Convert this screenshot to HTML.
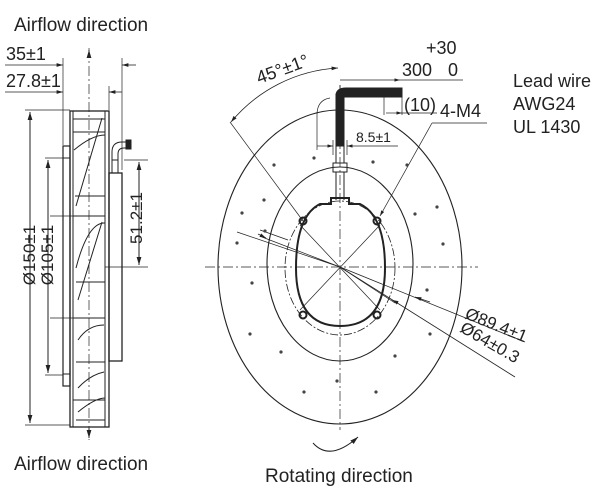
<!DOCTYPE html>
<html><head><meta charset="utf-8"><style>
html,body{margin:0;padding:0;background:#fff;}
svg{display:block;}
text{font-family:"Liberation Sans",sans-serif;fill:#222;}
</style></head><body>
<svg width="600" height="490" viewBox="0 0 600 490" xmlns="http://www.w3.org/2000/svg">
<defs>
<marker id="a" viewBox="0 0 10 6" refX="10" refY="3" markerWidth="8" markerHeight="5" orient="auto-start-reverse"><path d="M0,0L10,3L0,6z" fill="#222"/></marker>
</defs>
<g stroke="#222" fill="none" stroke-width="1">
<line x1="89" y1="48" x2="89" y2="440" stroke-dasharray="10,3,2,3" stroke-width="0.7"/>
<line x1="89" y1="58" x2="89" y2="50" marker-end="url(#a)"/>
<line x1="89" y1="428" x2="89" y2="438" marker-end="url(#a)"/>
<line x1="63" y1="58" x2="63" y2="145" stroke-width="0.7"/>
<line x1="122" y1="58" x2="122" y2="170" stroke-width="0.7"/>
<line x1="109" y1="86" x2="109" y2="110" stroke-width="0.7"/>
<line x1="5" y1="65" x2="63" y2="65" stroke-width="0.8" marker-end="url(#a)"/>
<line x1="136" y1="65" x2="122" y2="65" stroke-width="0.8" marker-end="url(#a)"/>
<line x1="5" y1="92" x2="63" y2="92" stroke-width="0.8" marker-end="url(#a)"/>
<line x1="122" y1="92" x2="109" y2="92" stroke-width="0.8" marker-end="url(#a)"/>
<rect x="70" y="111" width="39" height="316" stroke-width="1.3"/>
<line x1="73" y1="111" x2="73" y2="427"/>
<line x1="105" y1="111" x2="105" y2="427"/>
<rect x="63" y="146" width="7" height="240" stroke-width="1.2"/>
<line x1="63" y1="158" x2="70" y2="158"/><line x1="63" y1="374" x2="70" y2="374"/>
<rect x="109" y="173" width="13" height="188" stroke-width="1.3"/>
<path d="M112,173 V152 Q112,142 122,142 H131 M118,173 V154 Q118,148 124,148 H131" />
<rect x="126" y="140" width="5" height="9" fill="#222"/>
<rect x="112" y="160" width="6" height="13"/>
<path d="M73,119 H105 M73,132 H105 M74,150 Q92,135 105,135 M75,196 H105 M73,216 H105 M76,206 L102,118 M76,268 Q88,222 105,223 M76,282 H105 M78,300 L102,222 M73,318 H105 M78,340 Q88,325 104,325 M76,362 H105 M78,388 Q90,375 104,372 M73,400 H105 M78,412 Q95,398 105,398 M76,420 H105"/>
<line x1="25" y1="110" x2="70" y2="110" stroke-width="0.7"/>
<line x1="25" y1="425" x2="70" y2="425" stroke-width="0.7"/>
<line x1="45" y1="158" x2="63" y2="158" stroke-width="0.7"/>
<line x1="45" y1="375" x2="63" y2="375" stroke-width="0.7"/>
<line x1="50" y1="216" x2="73" y2="216" stroke-width="0.7"/>
<line x1="50" y1="318" x2="73" y2="318" stroke-width="0.7"/>
<line x1="105" y1="267" x2="148" y2="267" stroke-width="0.7"/>
<line x1="124" y1="160" x2="148" y2="160" stroke-width="0.7"/>
<line x1="30" y1="112" x2="30" y2="423" marker-start="url(#a)" marker-end="url(#a)"/>
<line x1="48" y1="160" x2="48" y2="373" marker-start="url(#a)" marker-end="url(#a)"/>
<line x1="139" y1="162" x2="139" y2="265" marker-start="url(#a)" marker-end="url(#a)"/>

<line x1="205" y1="267" x2="478" y2="267" stroke-dasharray="10,3,2,3" stroke-width="0.7"/>
<line x1="340" y1="85" x2="340" y2="430" stroke-dasharray="10,3,2,3" stroke-width="0.7"/>
<ellipse cx="340" cy="267" rx="122" ry="157" stroke-width="1.1"/>
<ellipse cx="340" cy="264" rx="73" ry="97" stroke-width="1.1"/>
<ellipse cx="340" cy="268" rx="55" ry="67" stroke-dasharray="8,2,2,2" stroke-width="0.8"/>
<path d="M331,198 L331,204 L320,204 Q296,216 296,268 Q296,326 340,326 Q385,326 385,268 Q385,216 360,204 L349,204 L349,198 Z" stroke-width="2"/>
<path d="M300,225 L380,310 M380,225 L300,310 M340,267 L262,237 M340,267 L237,232 M340,267 L395,303" stroke-width="0.7"/>
<line x1="340" y1="267" x2="525" y2="342" stroke-width="0.8"/>
<line x1="340" y1="267" x2="515" y2="377" stroke-width="0.8"/>
<line x1="430" y1="302" x2="415" y2="297" marker-end="url(#a)" stroke-width="0.8"/>
<line x1="398" y1="303" x2="392" y2="300" marker-end="url(#a)" stroke-width="0.8"/>
<line x1="258" y1="234" x2="266" y2="238" marker-end="url(#a)" stroke-width="0.8"/>
<line x1="260" y1="230" x2="288" y2="240" stroke-width="0.8"/>
<g stroke-width="2"><circle cx="303" cy="221" r="3.5"/><circle cx="377" cy="221" r="3.5"/><circle cx="303" cy="315" r="3.5"/><circle cx="377" cy="315" r="3.5"/></g>
<rect x="336" y="94" width="8" height="52" fill="#222"/>
<path d="M336,96 Q336,88 346,88 H402 V97 H344 Z" fill="#222"/>
<rect x="333" y="163" width="14" height="9"/>
<path d="M336,172 V200 M344,172 V200 M336,146 V163 M344,146 V163"/>
<path d="M340,85 V110" stroke-width="0.7"/>
<path d="M317,150 V115 Q317,100 330,98" stroke-width="0.7"/>
<line x1="340" y1="80" x2="400" y2="80" stroke-width="0.7" marker-end="url(#a)"/>
<line x1="400" y1="80" x2="463" y2="80" stroke-width="0.7"/>
<path d="M384,97 V115 M402,97 V115" stroke-width="0.7"/>
<line x1="386" y1="113" x2="402" y2="113" stroke-width="0.7" marker-end="url(#a)"/>
<line x1="402" y1="113" x2="437" y2="113" stroke-width="0.7"/>
<line x1="317" y1="146" x2="333" y2="146" stroke-width="0.7" marker-end="url(#a)"/>
<line x1="365" y1="146" x2="347" y2="146" marker-end="url(#a)" stroke-width="0.7"/>
<line x1="365" y1="146" x2="398" y2="146" stroke-width="0.7"/>
<path d="M333,140 V155 M347,140 V155" stroke-width="0.7"/>
<line x1="487" y1="123" x2="432" y2="123" stroke-width="0.7"/>
<line x1="432" y1="123" x2="380" y2="216" stroke-width="0.7" marker-end="url(#a)"/>
<line x1="230" y1="122" x2="303" y2="221" stroke-width="0.7"/>
<path d="M231,122 A150,150 0 0 1 338,68" stroke-width="0.8" marker-start="url(#a)" marker-end="url(#a)"/>
<path d="M313,443 Q330,462 358,437" stroke-width="1" marker-end="url(#a)"/>
</g>
<g fill="#444">
<circle cx="314" cy="158" r="1.6"/><circle cx="373" cy="162" r="1.6"/><circle cx="407" cy="165" r="1.6"/>
<circle cx="274" cy="165" r="1.6"/><circle cx="264" cy="200" r="1.6"/><circle cx="265" cy="231" r="1.6"/>
<circle cx="415" cy="214" r="1.6"/><circle cx="437" cy="207" r="1.6"/><circle cx="443" cy="244" r="1.6"/>
<circle cx="237" cy="243" r="1.6"/><circle cx="252" cy="283" r="1.6"/><circle cx="427" cy="290" r="1.6"/>
<circle cx="250" cy="334" r="1.6"/><circle cx="430" cy="334" r="1.6"/><circle cx="281" cy="352" r="1.6"/>
<circle cx="395" cy="356" r="1.6"/><circle cx="337" cy="381" r="1.6"/><circle cx="304" cy="392" r="1.6"/>
<circle cx="376" cy="392" r="1.6"/><circle cx="242" cy="213" r="1.6"/>
</g>
<g font-size="19">
<text x="14" y="31">Airflow direction</text>
<text x="14" y="470">Airflow direction</text>
<text x="265" y="482">Rotating direction</text>
</g>
<g font-size="18">
<text x="513" y="87">Lead wire</text>
<text x="513" y="110">AWG24</text>
<text x="513" y="133">UL 1430</text>
<text x="440" y="117">4-M4</text>
<text x="6" y="60">35±1</text>
<text x="6" y="87">27.8±1</text>
<text x="426" y="54">+30</text>
<text x="402" y="76">300</text>
<text x="448" y="76">0</text>
<text x="404" y="111">(10)</text>
<text transform="translate(259,84) rotate(-20)">45°±1°</text>
</g>
<g font-size="17" text-anchor="middle">
<text transform="translate(35,255) rotate(-90)">Ø150±1</text>
<text transform="translate(53,255) rotate(-90)">Ø105±1</text>
<text transform="translate(142,218) rotate(-90)">51.2±1</text>
</g>
<g font-size="17">
<text transform="translate(464,318) rotate(22)">Ø89.4±1</text>
<text transform="translate(459,331) rotate(30)">Ø64±0.3</text>
</g>
<text x="356" y="142" font-size="14">8.5±1</text>
</svg>
</body></html>
